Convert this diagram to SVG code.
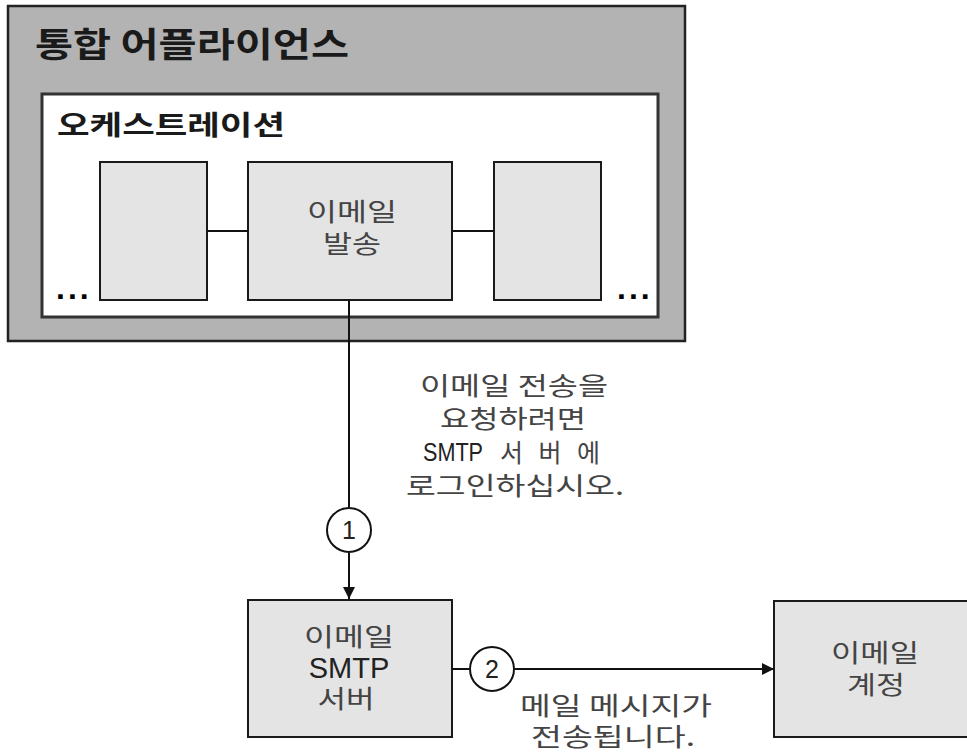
<svg xmlns="http://www.w3.org/2000/svg" width="967" height="752" viewBox="0 0 967 752">
<style>
.ko{font-family:"Noto Sans CJK KR","Noto Sans",sans-serif;font-size:25px;fill:#444;text-anchor:middle}
.lat{font-family:"Liberation Sans",Arial,sans-serif;fill:#222;text-anchor:middle}
.head{font-family:"Noto Sans CJK KR","Noto Sans",sans-serif;font-weight:bold;fill:#1a1a1a}
.box{fill:#e4e4e4;stroke:#1a1a1a;stroke-width:2}
.line{stroke:#111;stroke-width:2;fill:none}
.num{fill:#fff;stroke:#111;stroke-width:2}
.dots{font-family:"Liberation Sans",Arial,sans-serif;font-weight:bold;font-size:32px;letter-spacing:3px;fill:#000}
</style>
<defs>
<marker id="arr" viewBox="0 0 12 12" refX="12" refY="6" markerWidth="12" markerHeight="12" markerUnits="userSpaceOnUse" orient="auto">
<path d="M0,0 L12,6 L0,12 Z" fill="#111"/>
</marker>
</defs>
<rect width="967" height="752" fill="#fff"/>
<g id="appliance">
<rect x="8" y="6" width="677" height="335" fill="#b3b3b3" stroke="#222" stroke-width="2.5"/>
<text class="head" x="35" y="57" font-size="34" textLength="314" lengthAdjust="spacingAndGlyphs">통합 어플라이언스</text>
</g>
<g id="orchestration">
<rect x="42" y="94" width="616" height="223" fill="#fff" stroke="#333" stroke-width="3"/>
<text class="head" x="57" y="135" font-size="27" textLength="228" lengthAdjust="spacingAndGlyphs">오케스트레이션</text>
<text class="dots" x="56" y="299">...</text>
<text class="dots" x="617" y="299">...</text>
</g>
<g id="step-left">
<rect class="box" x="100" y="162" width="107" height="138"/>
</g>
<g id="step-send">
<rect class="box" x="248" y="162" width="204" height="138"/>
<text class="ko" x="352" y="221" textLength="90" lengthAdjust="spacingAndGlyphs">이메일</text>
<text class="ko" x="352" y="253" textLength="58" lengthAdjust="spacingAndGlyphs">발송</text>
</g>
<g id="step-right">
<rect class="box" x="494" y="162" width="107" height="138"/>
</g>
<g id="smtp">
<rect class="box" x="248" y="600" width="204" height="137"/>
<text class="ko" x="349" y="646" textLength="90" lengthAdjust="spacingAndGlyphs">이메일</text>
<text class="lat" x="349" y="678" font-size="29">SMTP</text>
<text class="ko" x="346" y="708" textLength="57" lengthAdjust="spacingAndGlyphs">서버</text>
</g>
<g id="account">
<rect class="box" x="774" y="601" width="200" height="136"/>
<text class="ko" x="875" y="662" textLength="88" lengthAdjust="spacingAndGlyphs">이메일</text>
<text class="ko" x="876" y="694" textLength="58" lengthAdjust="spacingAndGlyphs">계정</text>
</g>
<g id="connectors">
<line class="line" x1="207" y1="231" x2="248" y2="231"/>
<line class="line" x1="452" y1="231" x2="494" y2="231"/>
<line class="line" x1="349" y1="300" x2="349" y2="507"/>
<line class="line" x1="349" y1="553" x2="349" y2="599" marker-end="url(#arr)"/>
<line class="line" x1="452" y1="669" x2="469" y2="669"/>
<line class="line" x1="515" y1="669" x2="774" y2="669" marker-end="url(#arr)"/>
<circle class="num" cx="349" cy="530" r="22"/>
<text class="lat" x="349" y="539" font-size="25">1</text>
<circle class="num" cx="492" cy="669" r="22"/>
<text class="lat" x="492" y="678" font-size="25">2</text>
</g>
<g id="label-1">
<text class="ko" x="514" y="395" textLength="188" lengthAdjust="spacingAndGlyphs">이메일 전송을</text>
<text class="ko" x="513" y="428" textLength="146" lengthAdjust="spacingAndGlyphs">요청하려면</text>
<text class="lat" x="453" y="461" font-size="25" textLength="60" lengthAdjust="spacingAndGlyphs">SMTP</text>
<text class="ko" x="550" y="462" textLength="100" lengthAdjust="spacing">서버에</text>
<text class="ko" x="515" y="495" textLength="218" lengthAdjust="spacingAndGlyphs">로그인하십시오.</text>
</g>
<g id="label-2">
<text class="ko" x="616" y="715" textLength="192" lengthAdjust="spacingAndGlyphs">메일 메시지가</text>
<text class="ko" x="613" y="746" textLength="164" lengthAdjust="spacingAndGlyphs">전송됩니다.</text>
</g>
</svg>
